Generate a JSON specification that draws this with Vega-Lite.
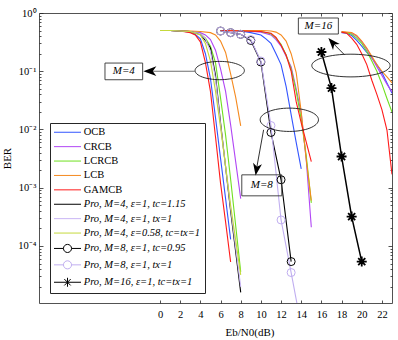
{
"$schema":"https://vega.github.io/schema/vega-lite/v6.json",
"width":353,"height":290,
"autosize":{"type":"none"},
"padding":{"left":39,"top":13,"right":6,"bottom":37},
"background":"white",
"config":{"view":{"stroke":null},"font":"Liberation Serif",
"axis":{"labelFont":"Liberation Serif","titleFont":"Liberation Serif","labelColor":"#000000","titleColor":"#000000","labelFontSize":10.5,"titleFontSize":11,"titleFontWeight":"normal","domainColor":"#262626","tickColor":"#262626","domainWidth":0.8,"tickWidth":0.8,"grid":false,"zindex":1}},
"datasets":{
"curves":[
{"s":"OCB","g":4,"x":0,"b":0.5},{"s":"OCB","g":4,"x":1,"b":0.5},{"s":"OCB","g":4,"x":2,"b":0.49},{"s":"OCB","g":4,"x":3,"b":0.47},{"s":"OCB","g":4,"x":3.5,"b":0.43},{"s":"OCB","g":4,"x":4,"b":0.36},{"s":"OCB","g":4,"x":4.5,"b":0.2},{"s":"OCB","g":4,"x":5,"b":0.075},{"s":"OCB","g":4,"x":5.5,"b":0.016},{"s":"OCB","g":4,"x":6,"b":0.0032},{"s":"OCB","g":4,"x":6.5,"b":0.00065},{"s":"OCB","g":4,"x":7,"b":0.00013},
{"s":"CRCB","g":4,"x":0,"b":0.5},{"s":"CRCB","g":4,"x":1,"b":0.5},{"s":"CRCB","g":4,"x":2,"b":0.49},{"s":"CRCB","g":4,"x":3,"b":0.48},{"s":"CRCB","g":4,"x":4,"b":0.46},{"s":"CRCB","g":4,"x":4.5,"b":0.42},{"s":"CRCB","g":4,"x":5,"b":0.35},{"s":"CRCB","g":4,"x":5.5,"b":0.23},{"s":"CRCB","g":4,"x":6,"b":0.11},{"s":"CRCB","g":4,"x":6.5,"b":0.045},{"s":"CRCB","g":4,"x":7,"b":0.012},{"s":"CRCB","g":4,"x":7.5,"b":0.0028},{"s":"CRCB","g":4,"x":8,"b":0.00065},
{"s":"LCRCB","g":4,"x":0,"b":0.5},{"s":"LCRCB","g":4,"x":1,"b":0.5},{"s":"LCRCB","g":4,"x":2,"b":0.49},{"s":"LCRCB","g":4,"x":3,"b":0.48},{"s":"LCRCB","g":4,"x":4,"b":0.44},{"s":"LCRCB","g":4,"x":4.5,"b":0.37},{"s":"LCRCB","g":4,"x":5,"b":0.27},{"s":"LCRCB","g":4,"x":5.5,"b":0.14},{"s":"LCRCB","g":4,"x":6,"b":0.035},{"s":"LCRCB","g":4,"x":6.5,"b":0.008},{"s":"LCRCB","g":4,"x":7,"b":0.0014},{"s":"LCRCB","g":4,"x":8,"b":0.000036},
{"s":"LCB","g":4,"x":0,"b":0.5},{"s":"LCB","g":4,"x":1,"b":0.5},{"s":"LCB","g":4,"x":2,"b":0.5},{"s":"LCB","g":4,"x":3,"b":0.49},{"s":"LCB","g":4,"x":4,"b":0.48},{"s":"LCB","g":4,"x":5,"b":0.46},{"s":"LCB","g":4,"x":5.5,"b":0.42},{"s":"LCB","g":4,"x":6,"b":0.33},{"s":"LCB","g":4,"x":6.5,"b":0.21},{"s":"LCB","g":4,"x":7,"b":0.09},{"s":"LCB","g":4,"x":7.5,"b":0.036},{"s":"LCB","g":4,"x":8,"b":0.0115},
{"s":"GAMCB","g":4,"x":0,"b":0.5},{"s":"GAMCB","g":4,"x":1,"b":0.5},{"s":"GAMCB","g":4,"x":2,"b":0.49},{"s":"GAMCB","g":4,"x":3,"b":0.46},{"s":"GAMCB","g":4,"x":3.5,"b":0.42},{"s":"GAMCB","g":4,"x":4,"b":0.32},{"s":"GAMCB","g":4,"x":4.5,"b":0.14},{"s":"GAMCB","g":4,"x":5,"b":0.045},{"s":"GAMCB","g":4,"x":5.5,"b":0.0075},{"s":"GAMCB","g":4,"x":6,"b":0.0012},{"s":"GAMCB","g":4,"x":6.5,"b":0.00026},{"s":"GAMCB","g":4,"x":7,"b":0.000053},
{"s":"P4a","g":4,"x":0,"b":0.5},{"s":"P4a","g":4,"x":1,"b":0.5},{"s":"P4a","g":4,"x":2,"b":0.49},{"s":"P4a","g":4,"x":3,"b":0.48},{"s":"P4a","g":4,"x":4,"b":0.43},{"s":"P4a","g":4,"x":4.5,"b":0.34},{"s":"P4a","g":4,"x":5,"b":0.25},{"s":"P4a","g":4,"x":5.5,"b":0.085},{"s":"P4a","g":4,"x":6,"b":0.013},{"s":"P4a","g":4,"x":7,"b":0.0004},{"s":"P4a","g":4,"x":8,"b":0.000016},
{"s":"P4b","g":4,"x":0,"b":0.5},{"s":"P4b","g":4,"x":1,"b":0.5},{"s":"P4b","g":4,"x":2,"b":0.49},{"s":"P4b","g":4,"x":3,"b":0.48},{"s":"P4b","g":4,"x":4,"b":0.44},{"s":"P4b","g":4,"x":4.5,"b":0.36},{"s":"P4b","g":4,"x":5,"b":0.22},{"s":"P4b","g":4,"x":5.5,"b":0.075},{"s":"P4b","g":4,"x":6,"b":0.012},{"s":"P4b","g":4,"x":7,"b":0.00045},{"s":"P4b","g":4,"x":8,"b":0.00002},
{"s":"P4c","g":4,"x":0,"b":0.5},{"s":"P4c","g":4,"x":1,"b":0.5},{"s":"P4c","g":4,"x":2,"b":0.49},{"s":"P4c","g":4,"x":3,"b":0.48},{"s":"P4c","g":4,"x":4,"b":0.42},{"s":"P4c","g":4,"x":4.5,"b":0.3},{"s":"P4c","g":4,"x":5,"b":0.15},{"s":"P4c","g":4,"x":5.5,"b":0.045},{"s":"P4c","g":4,"x":6,"b":0.011},{"s":"P4c","g":4,"x":7,"b":0.0005},{"s":"P4c","g":4,"x":8,"b":0.000032},
{"s":"OCB","g":8,"x":6,"b":0.5},{"s":"OCB","g":8,"x":8,"b":0.49},{"s":"OCB","g":8,"x":9,"b":0.46},{"s":"OCB","g":8,"x":10,"b":0.42},{"s":"OCB","g":8,"x":10.5,"b":0.36},{"s":"OCB","g":8,"x":11,"b":0.3},{"s":"OCB","g":8,"x":11.5,"b":0.2},{"s":"OCB","g":8,"x":12,"b":0.13},{"s":"OCB","g":8,"x":12.5,"b":0.055},{"s":"OCB","g":8,"x":13,"b":0.018},{"s":"OCB","g":8,"x":13.5,"b":0.006},{"s":"OCB","g":8,"x":14,"b":0.0021},
{"s":"CRCB","g":8,"x":6,"b":0.5},{"s":"CRCB","g":8,"x":8,"b":0.5},{"s":"CRCB","g":8,"x":10,"b":0.47},{"s":"CRCB","g":8,"x":11,"b":0.42},{"s":"CRCB","g":8,"x":11.5,"b":0.35},{"s":"CRCB","g":8,"x":12,"b":0.27},{"s":"CRCB","g":8,"x":12.5,"b":0.18},{"s":"CRCB","g":8,"x":13,"b":0.12},{"s":"CRCB","g":8,"x":13.5,"b":0.05},{"s":"CRCB","g":8,"x":14,"b":0.019},{"s":"CRCB","g":8,"x":14.5,"b":0.003},{"s":"CRCB","g":8,"x":15,"b":0.00021},
{"s":"LCRCB","g":8,"x":6,"b":0.5},{"s":"LCRCB","g":8,"x":8,"b":0.5},{"s":"LCRCB","g":8,"x":10,"b":0.48},{"s":"LCRCB","g":8,"x":11,"b":0.44},{"s":"LCRCB","g":8,"x":11.5,"b":0.37},{"s":"LCRCB","g":8,"x":12,"b":0.29},{"s":"LCRCB","g":8,"x":12.5,"b":0.19},{"s":"LCRCB","g":8,"x":13,"b":0.11},{"s":"LCRCB","g":8,"x":13.5,"b":0.045},{"s":"LCRCB","g":8,"x":14,"b":0.015},{"s":"LCRCB","g":8,"x":14.5,"b":0.0035},{"s":"LCRCB","g":8,"x":15,"b":0.00055},
{"s":"LCB","g":8,"x":6,"b":0.5},{"s":"LCB","g":8,"x":8,"b":0.5},{"s":"LCB","g":8,"x":10,"b":0.5},{"s":"LCB","g":8,"x":11,"b":0.49},{"s":"LCB","g":8,"x":11.5,"b":0.47},{"s":"LCB","g":8,"x":12,"b":0.42},{"s":"LCB","g":8,"x":12.5,"b":0.33},{"s":"LCB","g":8,"x":13,"b":0.2},{"s":"LCB","g":8,"x":13.5,"b":0.095},{"s":"LCB","g":8,"x":14,"b":0.02},{"s":"LCB","g":8,"x":14.5,"b":0.003},{"s":"LCB","g":8,"x":15,"b":0.0006},
{"s":"GAMCB","g":8,"x":6,"b":0.5},{"s":"GAMCB","g":8,"x":8,"b":0.49},{"s":"GAMCB","g":8,"x":10,"b":0.48},{"s":"GAMCB","g":8,"x":11,"b":0.45},{"s":"GAMCB","g":8,"x":11.5,"b":0.38},{"s":"GAMCB","g":8,"x":12,"b":0.28},{"s":"GAMCB","g":8,"x":12.5,"b":0.19},{"s":"GAMCB","g":8,"x":13,"b":0.1},{"s":"GAMCB","g":8,"x":13.5,"b":0.03},{"s":"GAMCB","g":8,"x":14,"b":0.013},{"s":"GAMCB","g":8,"x":15,"b":0.0028},
{"s":"P8a","g":8,"x":6,"b":0.49},{"s":"P8a","g":8,"x":7,"b":0.46},{"s":"P8a","g":8,"x":8,"b":0.43},{"s":"P8a","g":8,"x":9,"b":0.338},{"s":"P8a","g":8,"x":10,"b":0.144},{"s":"P8a","g":8,"x":11,"b":0.0089},{"s":"P8a","g":8,"x":12,"b":0.00137},{"s":"P8a","g":8,"x":13,"b":0.000054},
{"s":"P8b","g":8,"x":6,"b":0.49},{"s":"P8b","g":8,"x":7,"b":0.46},{"s":"P8b","g":8,"x":8,"b":0.43},{"s":"P8b","g":8,"x":9,"b":0.35},{"s":"P8b","g":8,"x":10,"b":0.15},{"s":"P8b","g":8,"x":11,"b":0.0117},{"s":"P8b","g":8,"x":12,"b":0.00028},{"s":"P8b","g":8,"x":13,"b":0.000035},{"s":"P8b","g":8,"x":14,"b":0.0000042},
{"s":"OCB","g":16,"x":18,"b":0.46},{"s":"OCB","g":16,"x":18.5,"b":0.45},{"s":"OCB","g":16,"x":19,"b":0.41},{"s":"OCB","g":16,"x":19.5,"b":0.34},{"s":"OCB","g":16,"x":20,"b":0.27},{"s":"OCB","g":16,"x":20.5,"b":0.21},{"s":"OCB","g":16,"x":21,"b":0.17},{"s":"OCB","g":16,"x":21.5,"b":0.13},{"s":"OCB","g":16,"x":22,"b":0.095},{"s":"OCB","g":16,"x":22.5,"b":0.063},{"s":"OCB","g":16,"x":23,"b":0.042},
{"s":"CRCB","g":16,"x":18,"b":0.47},{"s":"CRCB","g":16,"x":18.5,"b":0.46},{"s":"CRCB","g":16,"x":19,"b":0.45},{"s":"CRCB","g":16,"x":19.5,"b":0.4},{"s":"CRCB","g":16,"x":20,"b":0.32},{"s":"CRCB","g":16,"x":20.5,"b":0.24},{"s":"CRCB","g":16,"x":21,"b":0.17},{"s":"CRCB","g":16,"x":21.5,"b":0.12},{"s":"CRCB","g":16,"x":22,"b":0.085},{"s":"CRCB","g":16,"x":22.5,"b":0.06},{"s":"CRCB","g":16,"x":23,"b":0.044},
{"s":"LCRCB","g":16,"x":18,"b":0.47},{"s":"LCRCB","g":16,"x":18.5,"b":0.46},{"s":"LCRCB","g":16,"x":19,"b":0.43},{"s":"LCRCB","g":16,"x":19.5,"b":0.37},{"s":"LCRCB","g":16,"x":20,"b":0.3},{"s":"LCRCB","g":16,"x":20.5,"b":0.22},{"s":"LCRCB","g":16,"x":21,"b":0.15},{"s":"LCRCB","g":16,"x":21.5,"b":0.1},{"s":"LCRCB","g":16,"x":22,"b":0.06},{"s":"LCRCB","g":16,"x":22.5,"b":0.034},{"s":"LCRCB","g":16,"x":23,"b":0.02},
{"s":"LCB","g":16,"x":18,"b":0.48},{"s":"LCB","g":16,"x":18.5,"b":0.47},{"s":"LCB","g":16,"x":19,"b":0.46},{"s":"LCB","g":16,"x":19.5,"b":0.41},{"s":"LCB","g":16,"x":20,"b":0.33},{"s":"LCB","g":16,"x":20.5,"b":0.25},{"s":"LCB","g":16,"x":21,"b":0.18},{"s":"LCB","g":16,"x":21.5,"b":0.13},{"s":"LCB","g":16,"x":22,"b":0.1},{"s":"LCB","g":16,"x":22.5,"b":0.08},{"s":"LCB","g":16,"x":23,"b":0.063},
{"s":"GAMCB","g":16,"x":18,"b":0.47},{"s":"GAMCB","g":16,"x":18.5,"b":0.45},{"s":"GAMCB","g":16,"x":19,"b":0.37},{"s":"GAMCB","g":16,"x":19.5,"b":0.29},{"s":"GAMCB","g":16,"x":20,"b":0.2},{"s":"GAMCB","g":16,"x":20.5,"b":0.13},{"s":"GAMCB","g":16,"x":21,"b":0.07},{"s":"GAMCB","g":16,"x":21.5,"b":0.04},{"s":"GAMCB","g":16,"x":22,"b":0.022},{"s":"GAMCB","g":16,"x":22.5,"b":0.0098},{"s":"GAMCB","g":16,"x":23,"b":0.0017},
{"s":"P16","g":16,"x":16,"b":0.214},{"s":"P16","g":16,"x":17,"b":0.0514},{"s":"P16","g":16,"x":18,"b":0.00344},{"s":"P16","g":16,"x":19,"b":0.00032},{"s":"P16","g":16,"x":20,"b":0.000054}
],
"ann":[
{"k":"e4","x":5.92,"b":0.1028},{"k":"e8","x":12.82,"b":0.01468},{"k":"e16","x":18.93,"b":0.1253},
{"k":"b4","x":-3.59,"b":0.0994,"t":"M=4"},{"k":"b8","x":10.09,"b":0.0011,"t":"M=8"},{"k":"b16","x":15.7,"b":0.598,"t":"M=16"},
{"k":"a4","x":3.47,"b":0.1,"x2":-0.99,"b2":0.1},{"k":"a8","x":10.27,"b":0.00988,"x2":9.55,"b2":0.00203},{"k":"a16","x":18.28,"b":0.192,"x2":17.09,"b2":0.311},
{"k":"h4","x":-1.01,"b":0.1},{"k":"h8","x":9.57,"b":0.00206},{"k":"h16","x":17.09,"b":0.311}
]},
"encoding":{
"x":{"field":"x","type":"quantitative","scale":{"domain":[-12,23],"nice":false,"zero":false},"axis":null},
"y":{"field":"b","type":"quantitative","scale":{"type":"log","domain":[0.0000105,1],"nice":false},"axis":null}
},
"resolve":{"axis":{"x":"independent","y":"independent"}},
"layer":[
{"data":{"name":"curves"},"transform":[{"filter":"datum.s!='P16'"}],
"mark":{"type":"line","clip":true,"strokeWidth":1.1},
"encoding":{
"x":{"field":"x","type":"quantitative","scale":{"domain":[-12,23],"nice":false,"zero":false},
"axis":{"orient":"bottom","values":[0,2,4,6,8,10,12,14,16,18,20,22],"tickSize":-3,"labelPadding":9,"labelFlush":false,"title":"Eb/N0(dB)","titleX":210.5,"titleY":32,"titleBaseline":"alphabetic","titleAlign":"center"}},
"y":{"field":"b","type":"quantitative","scale":{"type":"log","domain":[0.0000105,1],"nice":false},
"axis":{"orient":"left","values":[0.00002,0.00003,0.00004,0.00005,0.00006,0.00007,0.00008,0.00009,0.0001,0.0002,0.0003,0.0004,0.0005,0.0006,0.0007,0.0008,0.0009,0.001,0.002,0.003,0.004,0.005,0.006,0.007,0.008,0.009,0.01,0.02,0.03,0.04,0.05,0.06,0.07,0.08,0.09,0.1,0.2,0.3,0.4,0.5,0.6,0.7,0.8,0.9,1],
"tickSize":{"condition":{"test":"datum.value==1||datum.value==0.1||datum.value==0.01||datum.value==0.001||datum.value==0.0001","value":-4},"value":-2},
"labelPadding":7,"labelOverlap":false,
"labelExpr":"datum.value==1?'10⁰':datum.value==0.1?'10⁻¹':datum.value==0.01?'10⁻²':datum.value==0.001?'10⁻³':datum.value==0.0001?'10⁻⁴':''",
"title":"BER","titleX":-32,"titleY":145,"titleAngle":270,"titleBaseline":"middle","titleAlign":"center"}},
"detail":{"field":"g","type":"nominal"},
"color":{"field":"s","type":"nominal",
"scale":{"domain":["OCB","CRCB","LCRCB","LCB","GAMCB","P4a","P4b","P4c","P8a","P8b","P16"],"range":["#3355ff","#b146f5","#70e020","#f58a1f","#ff1a1a","#000000","#c9b5f5","#c5d93c","#000000","#c0aef0","#000000"]},
"legend":{"title":null,"orient":"none","legendX":11,"legendY":110,"strokeColor":"#262626","fillColor":"#ffffff","padding":4,"rowPadding":3.4,"symbolSize":81,"symbolStrokeWidth":1,"symbolOpacity":1,"symbolOffset":8.25,"labelOffset":11,"labelFont":"Liberation Serif","labelFontSize":10.5,"labelColor":"#000000","labelLimit":220,
"labelFontStyle":{"expr":"indexof(datum.value,'P')==0?'italic':'normal'"},
"labelExpr":"datum.value=='P4a'?'Pro, M=4, ε=1, tc=1.15':datum.value=='P4b'?'Pro, M=4, ε=1, tx=1':datum.value=='P4c'?'Pro, M=4, ε=0.58, tc=tx=1':datum.value=='P8a'?'Pro, M=8, ε=1, tc=0.95':datum.value=='P8b'?'Pro, M=8, ε=1, tx=1':datum.value=='P16'?'Pro, M=16, ε=1, tc=tx=1':datum.value"}}
}},
{"data":{"name":"curves"},"transform":[{"filter":"false"}],
"mark":{"type":"point","filled":false,"opacity":1,"strokeWidth":1},
"encoding":{
"color":{"field":"s","type":"nominal",
"scale":{"domain":["OCB","CRCB","LCRCB","LCB","GAMCB","P4a","P4b","P4c","P8a","P8b","P16"],"range":["#3355ff","#b146f5","#70e020","#f58a1f","#ff1a1a","#000000","#c9b5f5","#c5d93c","#000000","#c0aef0","#000000"]},
"legend":{"title":null,"orient":"none","legendX":11,"legendY":110,"strokeColor":"#262626","fillColor":"#ffffff","padding":4,"rowPadding":3.4,"symbolSize":81,"symbolStrokeWidth":1,"symbolOpacity":1,"symbolOffset":8.25,"labelOffset":11,"labelFont":"Liberation Serif","labelFontSize":10.5,"labelColor":"#000000","labelLimit":220,
"labelFontStyle":{"expr":"indexof(datum.value,'P')==0?'italic':'normal'"},
"labelExpr":"datum.value=='P4a'?'Pro, M=4, ε=1, tc=1.15':datum.value=='P4b'?'Pro, M=4, ε=1, tx=1':datum.value=='P4c'?'Pro, M=4, ε=0.58, tc=tx=1':datum.value=='P8a'?'Pro, M=8, ε=1, tc=0.95':datum.value=='P8b'?'Pro, M=8, ε=1, tx=1':datum.value=='P16'?'Pro, M=16, ε=1, tc=tx=1':datum.value"}},
"shape":{"field":"s","type":"nominal",
"scale":{"domain":["OCB","CRCB","LCRCB","LCB","GAMCB","P4a","P4b","P4c","P8a","P8b","P16"],"range":["M-3,0H3","M-3,0H3","M-3,0H3","M-3,0H3","M-3,0H3","M-3,0H3","M-3,0H3","M-3,0H3","M-3,0H-0.9M0.9,0H3M-0.9,0A0.9,0.9,0,1,1,0.9,0A0.9,0.9,0,1,1,-0.9,0","M-3,0H-0.9M0.9,0H3M-0.9,0A0.9,0.9,0,1,1,0.9,0A0.9,0.9,0,1,1,-0.9,0","M-3,0H3M0,-1V1M-0.71,-0.71L0.71,0.71M-0.71,0.71L0.71,-0.71"]},
"legend":{"title":null,"orient":"none","legendX":11,"legendY":110,"strokeColor":"#262626","fillColor":"#ffffff","padding":4,"rowPadding":3.4,"symbolSize":81,"symbolStrokeWidth":1,"symbolOpacity":1,"symbolOffset":8.25,"labelOffset":11,"labelFont":"Liberation Serif","labelFontSize":10.5,"labelColor":"#000000","labelLimit":220,
"labelFontStyle":{"expr":"indexof(datum.value,'P')==0?'italic':'normal'"},
"labelExpr":"datum.value=='P4a'?'Pro, M=4, ε=1, tc=1.15':datum.value=='P4b'?'Pro, M=4, ε=1, tx=1':datum.value=='P4c'?'Pro, M=4, ε=0.58, tc=tx=1':datum.value=='P8a'?'Pro, M=8, ε=1, tc=0.95':datum.value=='P8b'?'Pro, M=8, ε=1, tx=1':datum.value=='P16'?'Pro, M=16, ε=1, tc=tx=1':datum.value"}}
}},
{"data":{"name":"curves"},"transform":[{"filter":"datum.s=='P16'"}],
"mark":{"type":"line","clip":true,"strokeWidth":1.5,"color":"#000000"},
"encoding":{
"x":{"field":"x","type":"quantitative","scale":{"domain":[-12,23],"nice":false,"zero":false},
"axis":{"orient":"top","values":[0,2,4,6,8,10,12,14,16,18,20,22],"tickSize":-3,"labels":false,"title":null}},
"y":{"field":"b","type":"quantitative","scale":{"type":"log","domain":[0.0000105,1],"nice":false},
"axis":{"orient":"right","values":[0.00002,0.00003,0.00004,0.00005,0.00006,0.00007,0.00008,0.00009,0.0001,0.0002,0.0003,0.0004,0.0005,0.0006,0.0007,0.0008,0.0009,0.001,0.002,0.003,0.004,0.005,0.006,0.007,0.008,0.009,0.01,0.02,0.03,0.04,0.05,0.06,0.07,0.08,0.09,0.1,0.2,0.3,0.4,0.5,0.6,0.7,0.8,0.9,1],
"tickSize":{"condition":{"test":"datum.value==1||datum.value==0.1||datum.value==0.01||datum.value==0.001||datum.value==0.0001","value":-4},"value":-2},
"labels":false,"title":null}}
}},
{"data":{"name":"curves"},"transform":[{"filter":"datum.s=='P8a'"}],
"mark":{"type":"point","shape":"circle","filled":false,"color":"#000000","size":64,"strokeWidth":1,"opacity":1,"clip":true}},
{"data":{"name":"curves"},"transform":[{"filter":"datum.s=='P8b'"}],
"mark":{"type":"point","shape":"circle","filled":false,"color":"#c0aef0","size":64,"strokeWidth":1,"opacity":1,"clip":true}},
{"data":{"name":"curves"},"transform":[{"filter":"datum.s=='P16'"}],
"mark":{"type":"point","shape":"M-1,0H1M0,-1V1M-0.71,-0.71L0.71,0.71M-0.71,0.71L0.71,-0.71","filled":false,"color":"#000000","size":100,"strokeWidth":1.8,"opacity":1,"clip":true}},
{"data":{"name":"ann"},"transform":[{"filter":"datum.k=='e4'"}],
"mark":{"type":"point","shape":"M-1,0A1,0.371,0,1,0,1,0A1,0.371,0,1,0,-1,0Z","size":2430,"filled":false,"color":"#1a1a1a","strokeWidth":0.9,"opacity":1}},
{"data":{"name":"ann"},"transform":[{"filter":"datum.k=='e8'"}],
"mark":{"type":"point","shape":"M-1,0A1,0.4,0,1,0,1,0A1,0.4,0,1,0,-1,0Z","size":3400,"filled":false,"color":"#1a1a1a","strokeWidth":0.9,"opacity":1}},
{"data":{"name":"ann"},"transform":[{"filter":"datum.k=='e16'"}],
"mark":{"type":"point","shape":"M-1,0A1,0.29,0,1,0,1,0A1,0.29,0,1,0,-1,0Z","size":6131,"filled":false,"color":"#1a1a1a","strokeWidth":0.9,"opacity":1}},
{"data":{"name":"ann"},"transform":[{"filter":"datum.k=='b4'"}],
"mark":{"type":"point","shape":"M-1,-0.443H1V0.443H-1Z","size":1421,"filled":false,"color":"#333333","strokeWidth":0.9,"opacity":1}},
{"data":{"name":"ann"},"transform":[{"filter":"datum.k=='b8'"}],
"mark":{"type":"point","shape":"M-1,-0.525H1V0.525H-1Z","size":1600,"filled":false,"color":"#333333","strokeWidth":0.9,"opacity":1}},
{"data":{"name":"ann"},"transform":[{"filter":"datum.k=='b16'"}],
"mark":{"type":"point","shape":"M-1,-0.4H1V0.4H-1Z","size":1600,"filled":false,"color":"#333333","strokeWidth":0.9,"opacity":1}},
{"data":{"name":"ann"},"transform":[{"filter":{"field":"k","oneOf":["b4","b8","b16"]}}],
"mark":{"type":"text","font":"Liberation Serif","fontStyle":"italic","fontSize":11,"color":"#000000","align":"center","baseline":"middle"},
"encoding":{"text":{"field":"t","type":"nominal"}}},
{"data":{"name":"ann"},"transform":[{"filter":"datum.k=='a4'"}],
"mark":{"type":"rule","color":"#6e6e6e","strokeWidth":1.2},
"encoding":{"x2":{"field":"x2"},"y2":{"field":"b2"}}},
{"data":{"name":"ann"},"transform":[{"filter":{"field":"k","oneOf":["a8","a16"]}}],
"mark":{"type":"rule","color":"#1a1a1a","strokeWidth":0.9},
"encoding":{"x2":{"field":"x2"},"y2":{"field":"b2"}}},
{"data":{"name":"ann"},"transform":[{"filter":"datum.k=='h4'"}],
"mark":{"type":"point","shape":"M1,0L-1,-0.75L-0.45,0L-1,0.75Z","size":169,"filled":true,"color":"#000000","angle":180,"opacity":1}},
{"data":{"name":"ann"},"transform":[{"filter":"datum.k=='h8'"}],
"mark":{"type":"point","shape":"M1,0L-1,-0.75L-0.45,0L-1,0.75Z","size":144,"filled":true,"color":"#000000","angle":99.3,"opacity":1}},
{"data":{"name":"ann"},"transform":[{"filter":"datum.k=='h16'"}],
"mark":{"type":"point","shape":"M1,0L-1,-0.75L-0.45,0L-1,0.75Z","size":144,"filled":true,"color":"#000000","angle":228.1,"opacity":1}}
]
}
